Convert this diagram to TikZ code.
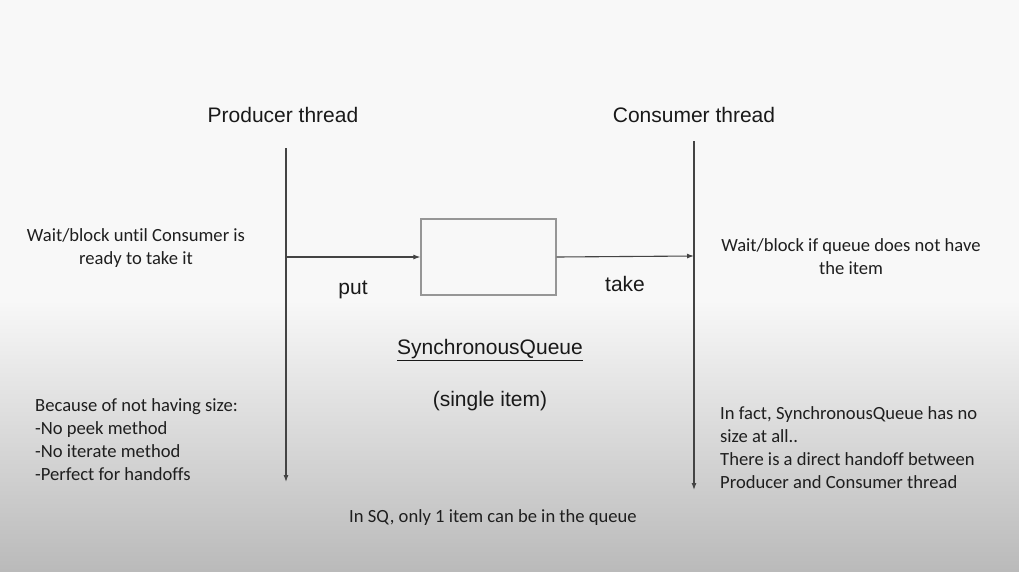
\documentclass[tikz,border=0pt]{standalone}
\usepackage{fontspec}
\setmainfont{Carlito}[Ligatures={NoCommon}]
\newfontfamily\titlefont{Liberation Sans}
\usepackage{tikz}
\usetikzlibrary{arrows.meta,positioning,calc}

\definecolor{bgtop}{RGB}{248,248,248}
\definecolor{bgbot}{RGB}{186,186,186}
\definecolor{linegray}{RGB}{68,68,68}
\definecolor{boxgray}{RGB}{150,150,150}

\begin{document}
\begin{tikzpicture}[x=1pt,y=-1pt,
        thread/.style={font=\titlefont\fontsize{21}{24}\selectfont, text=black!90},
        note/.style={font=\fontsize{18.6}{23}\selectfont, text=black!88, inner sep=0pt},
        flow/.style={draw=linegray, line width=1.1pt, -{Latex[length=7pt,width=5pt]}}]
        % background
        \fill[bgtop] (0,0) rectangle (1019,300);
        \shade[top color=bgtop, bottom color=bgbot] (0,300) rectangle (1019,571);
        \useasboundingbox (0,0) rectangle (1019,571);

        \node[thread] (prod) at (283,115) {Producer thread};
        \node[thread] (cons) at (694,115) {Consumer thread};

        \coordinate (ptop) at (286,148);
        \coordinate (pbot) at (286,482);
        \coordinate (ctop) at (694,141);
        \coordinate (cbot) at (694,490);
        \draw[flow] (ptop) -- (pbot);
        \draw[flow] (ctop) -- (cbot);

        \node[draw=boxgray, line width=1.2pt, fill=bgtop, minimum width=135pt, minimum height=76pt, inner sep=0pt] (queue) at (488.5,257) {};
        \coordinate (pput) at (286,257);
        \coordinate (ctake) at (694,256);
        \draw[flow] (pput) -- (queue.west);
        \draw[flow] (queue.east) -- (ctake);

        \node[thread] (put) at (353,290) {put};
        \node[thread] (take) at (625,284) {take};
        \node[thread] (sq) at (490,350) {\underline{SynchronousQueue}};
        \node[thread] (single) at (490,401) {(single item)};

        \node[note, align=center] (pwait) at (136,248) {Wait/block until Consumer is\\ready to take it};
        \node[note, align=center] (cwait) at (851,257) {Wait/block if queue does not have\\the item};
        \node[note, align=left, anchor=base west] (nosize) at (35,480) {Because of not having size:\\-No peek method\\-No iterate method\\-Perfect for handoffs};
        \node[note, align=left, anchor=base west] (nosize2) at (720,488) {In fact, SynchronousQueue has no\\size at all..\\There is a direct handoff between\\Producer and Consumer thread};
        \node[note] (onlyone) at (493,518) {In SQ, only 1 item can be in the queue};
\end{tikzpicture}
\end{document}
